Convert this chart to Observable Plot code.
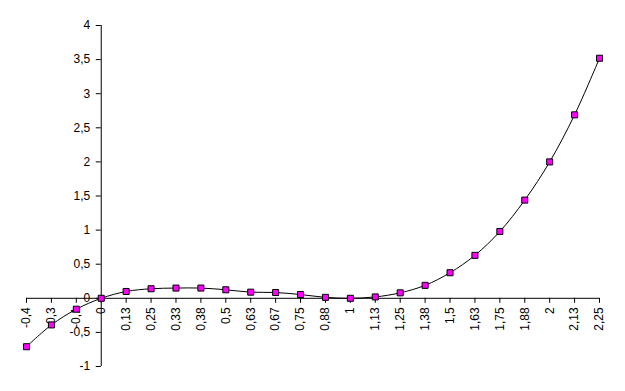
<!DOCTYPE html>
<html>
<head>
<meta charset="utf-8">
<script src="https://cdn.jsdelivr.net/npm/d3@7"></script>
<script src="https://cdn.jsdelivr.net/npm/@observablehq/plot@0.6"></script>
<style>
  html, body { margin: 0; padding: 0; background: white; }
</style>
</head>
<body>
<div id="chart"></div>
<script>
const categories = ["-0,4","-0,3","-0,1","0","0,13","0,25","0,33","0,38","0,5","0,63","0,67","0,75","0,88","1","1,13","1,25","1,38","1,5","1,63","1,75","1,88","2","2,13","2,25"];
const values = [-0.71,-0.39,-0.16,0,0.1,0.14,0.15,0.15,0.125,0.09,0.085,0.055,0.014,0,0.02,0.08,0.19,0.375,0.63,0.98,1.44,2,2.69,3.52];
const yTicks = [-1,-0.5,0,0.5,1,1.5,2,2.5,3,3.5,4];

const W = 625, H = 391, mT = 25, mB = 25, mL = 26, mR = 26;
const idx = categories.map((c, i) => i);
const data = categories.map((c, i) => ({i, c, v: values[i]}));
const fmt = d => String(d).replace(".", ",");
const zeroIndex = categories.indexOf("0");

const xs = Plot.scale({x: {domain: [0, categories.length - 1], range: [mL, W - mR]}});
const ys = Plot.scale({y: {domain: [-1, 4], range: [H - mB, mT]}});
const dyAxis = ys.apply(0) - (H - mB);
const dxAxis = xs.apply(zeroIndex) - mL;

const chart = Plot.plot({
  width: W, height: H,
  marginTop: mT, marginBottom: mB, marginLeft: mL, marginRight: mR,
  style: {fontFamily: "'Liberation Sans', Arial, sans-serif", fontSize: "12px", color: "black", background: "white"},
  x: {domain: [0, categories.length - 1], axis: null, label: null},
  y: {domain: [-1, 4], axis: null, label: null},
  marks: [
    Plot.ruleY([0], {stroke: "black", strokeWidth: 1}),
    Plot.ruleX([zeroIndex], {y1: -1, y2: 4, stroke: "black", strokeWidth: 1}),
    Plot.axisX({ticks: idx, tickFormat: i => categories[i], label: null, tickSize: 5, tickRotate: -90, tickPadding: 4, dy: dyAxis, fontSize: 12}),
    Plot.axisY({ticks: yTicks, tickFormat: fmt, label: null, tickSize: 5, tickPadding: 6, dx: dxAxis, fontSize: 12}),
    Plot.line(data, {x: "i", y: "v", curve: "catmull-rom", stroke: "black", strokeWidth: 1}),
    Plot.dot(data, {x: "i", y: "v", symbol: "square", r: 3.4, fill: "#ff00ff", stroke: "black", strokeWidth: 1})
  ]
});
document.getElementById("chart").appendChild(chart);
</script>
</body>
</html>
